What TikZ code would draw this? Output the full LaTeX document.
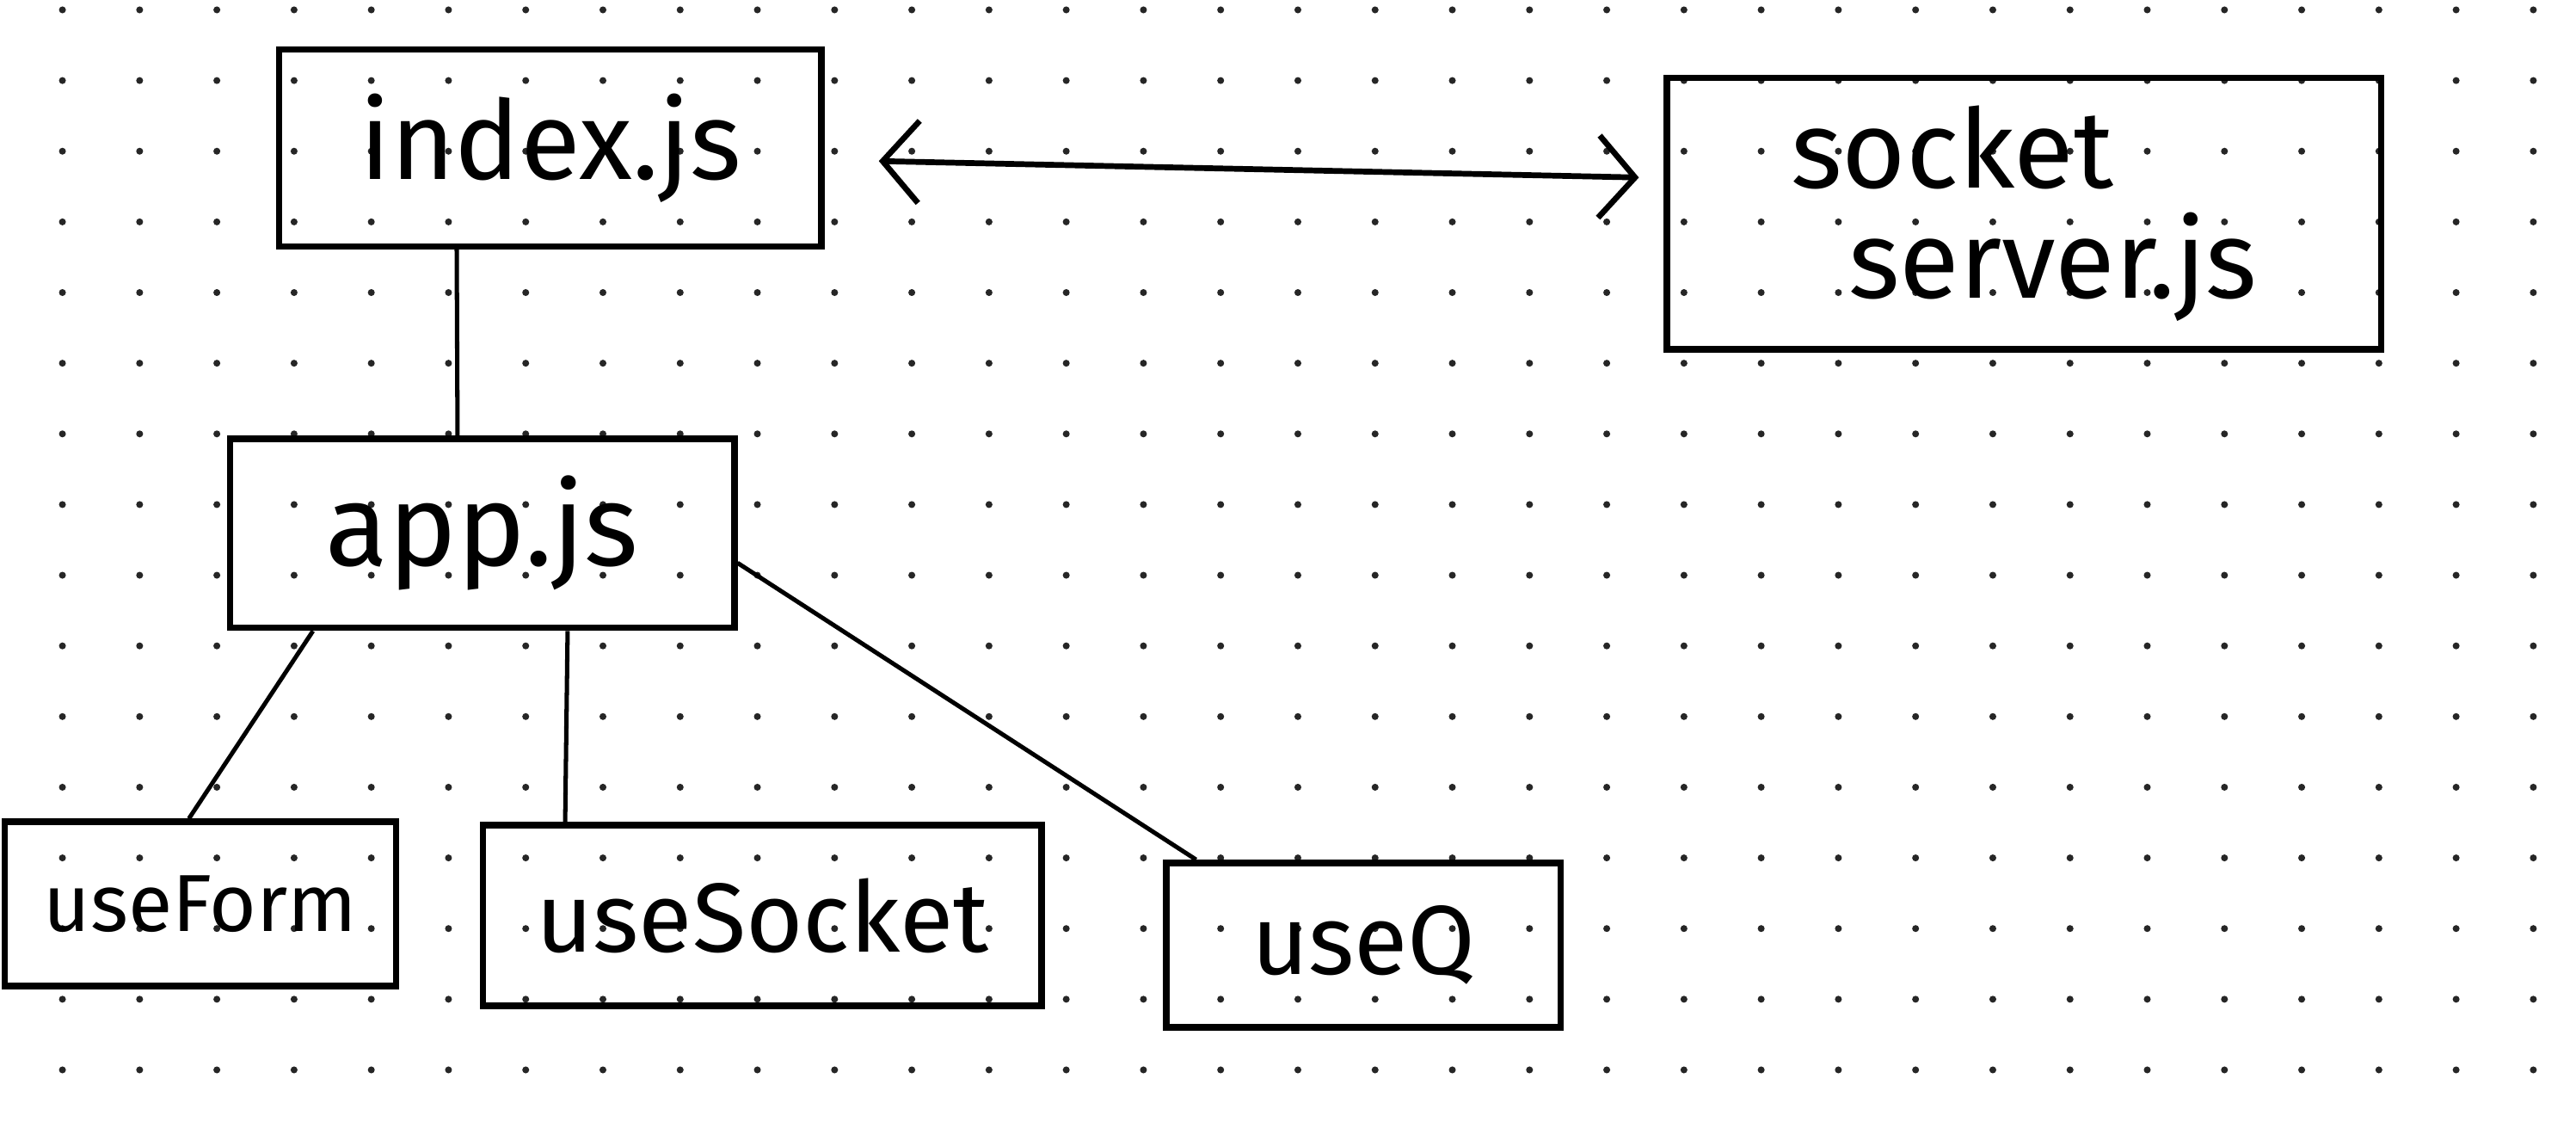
\documentclass[tikz,border=0pt]{standalone}
\usepackage{fontspec}
\setmainfont{Fira Sans}
\usetikzlibrary{scopes,arrows.meta}

\begin{document}
\begin{tikzpicture}[
      box/.style={draw=black,line width=1.1pt,inner sep=0pt,font=\fontsize{17}{20}\selectfont},
      wire/.style={draw=black,line width=0.75pt},
      link/.style={>={Straight Barb[length=2.2mm,width=5mm]},line width=1pt},
      pin/.style={fill=black!85}
]
      \useasboundingbox (0,0) rectangle (15.68,-6.86);
      {[pin]
          \foreach \i in {0,...,32}
              \foreach \j in {0,...,15}
                  \fill (0.38+0.47*\i, -0.06-0.43*\j) circle (0.6pt);
      }
      \node[box,minimum width=3.3cm,minimum height=1.2cm,font=\fontsize{19}{20}\selectfont] at (3.35,-0.9) (index) {index.js};
      \node[box,minimum width=4.35cm,minimum height=1.65cm,align=left,font=\fontsize{19}{19}\selectfont] at (12.32,-1.3) (socket) {socket\\\hspace*{0.35cm}server.js};
      \node[box,minimum width=3.07cm,minimum height=1.15cm,font=\fontsize{20}{20}\selectfont] at (2.935,-3.245) (app) {app.js};
      \node[box,minimum width=2.38cm,minimum height=1cm,font=\fontsize{14}{16}\selectfont] at (1.22,-5.5) (form) {useForm};
      \node[box,minimum width=3.4cm,minimum height=1.1cm] at (4.64,-5.57) (sock) {useSocket};
      \node[box,minimum width=2.4cm,minimum height=1cm] at (8.3,-5.75) (q) {useQ};
      {[link,<->]
          \draw ([xshift=0.33cm,yshift=-0.08cm]index.east) -- ([xshift=-0.15cm,yshift=0.22cm]socket.west);
      }
      {[wire]
          \draw ([xshift=-0.57cm]index.south) -- ([xshift=-0.15cm]app.north);
          \draw ([xshift=-1.03cm]app.south) -- ([xshift=-0.07cm]form.north);
          \draw ([xshift=0.52cm]app.south) -- ([xshift=-1.2cm]sock.north);
          \draw ([yshift=-0.18cm]app.east) -- ([xshift=0.2cm]q.north west);
      }
\end{tikzpicture}
\end{document}
